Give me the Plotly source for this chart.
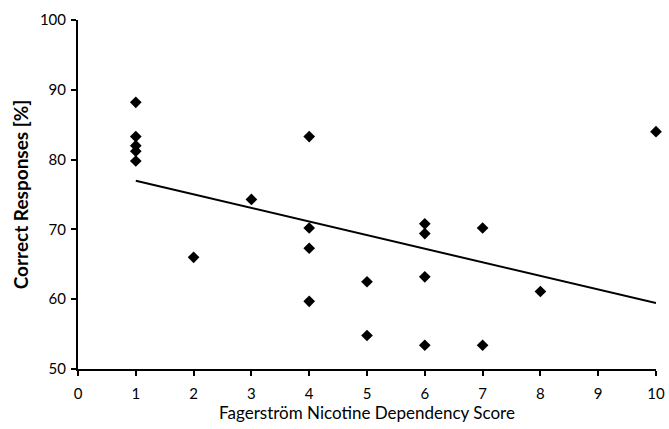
import numpy as np
import plotly.graph_objects as go

score = [1, 1, 1, 1, 1, 2, 3, 4, 4, 4, 4, 5, 5, 6, 6, 6, 6, 7, 7, 8, 10]
correct = [88.2, 83.3, 82.0, 81.2, 79.8, 66.0, 74.3, 83.3, 70.2, 67.3, 59.7,
           62.5, 54.8, 70.8, 69.4, 63.2, 53.4, 70.2, 53.4, 61.1, 84.0]

slope, intercept = np.polyfit(score, correct, 1)
fit_x = [min(score), max(score)]
fit_y = [slope * v + intercept for v in fit_x]

fig = go.Figure()
fig.add_trace(go.Scatter(x=fit_x, y=fit_y, mode="lines",
                         line=dict(color="black", width=2), showlegend=False,
                         cliponaxis=False))
fig.add_trace(go.Scatter(x=score, y=correct, mode="markers",
                         marker=dict(symbol="diamond", size=9, color="black"),
                         showlegend=False, cliponaxis=False))

font = "Lato, 'Open Sans', sans-serif"
fig.update_layout(
    width=669, height=429,
    margin=dict(l=78, r=13, t=20, b=60, autoexpand=False),
    plot_bgcolor="white", paper_bgcolor="white",
    font=dict(family=font, color="black", size=15),
    xaxis=dict(range=[0, 10], tickvals=list(range(0, 11)), showgrid=False,
               zeroline=False, showline=True, linecolor="black", linewidth=2,
               ticks="outside", ticklen=5, tickwidth=1.5, tickcolor="black",
               tickfont=dict(size=15), automargin=False, ticklabelstandoff=5,
               title=dict(text="Fagerström Nicotine Dependency Score",
                          font=dict(size=17), standoff=2)),
    yaxis=dict(range=[50, 100], tickvals=[50, 60, 70, 80, 90, 100], showgrid=False,
               zeroline=False, showline=True, linecolor="black", linewidth=2,
               ticks="outside", ticklen=5, tickwidth=1.5, tickcolor="black",
               tickfont=dict(size=15), automargin=False, ticklabelstandoff=2,
               title=dict(text="<b>Correct Responses [%]</b>",
                          font=dict(size=19), standoff=6)),
)
fig.write_html("out.html", config={"displayModeBar": False},
               post_script="document.body.style.margin='0px';")
